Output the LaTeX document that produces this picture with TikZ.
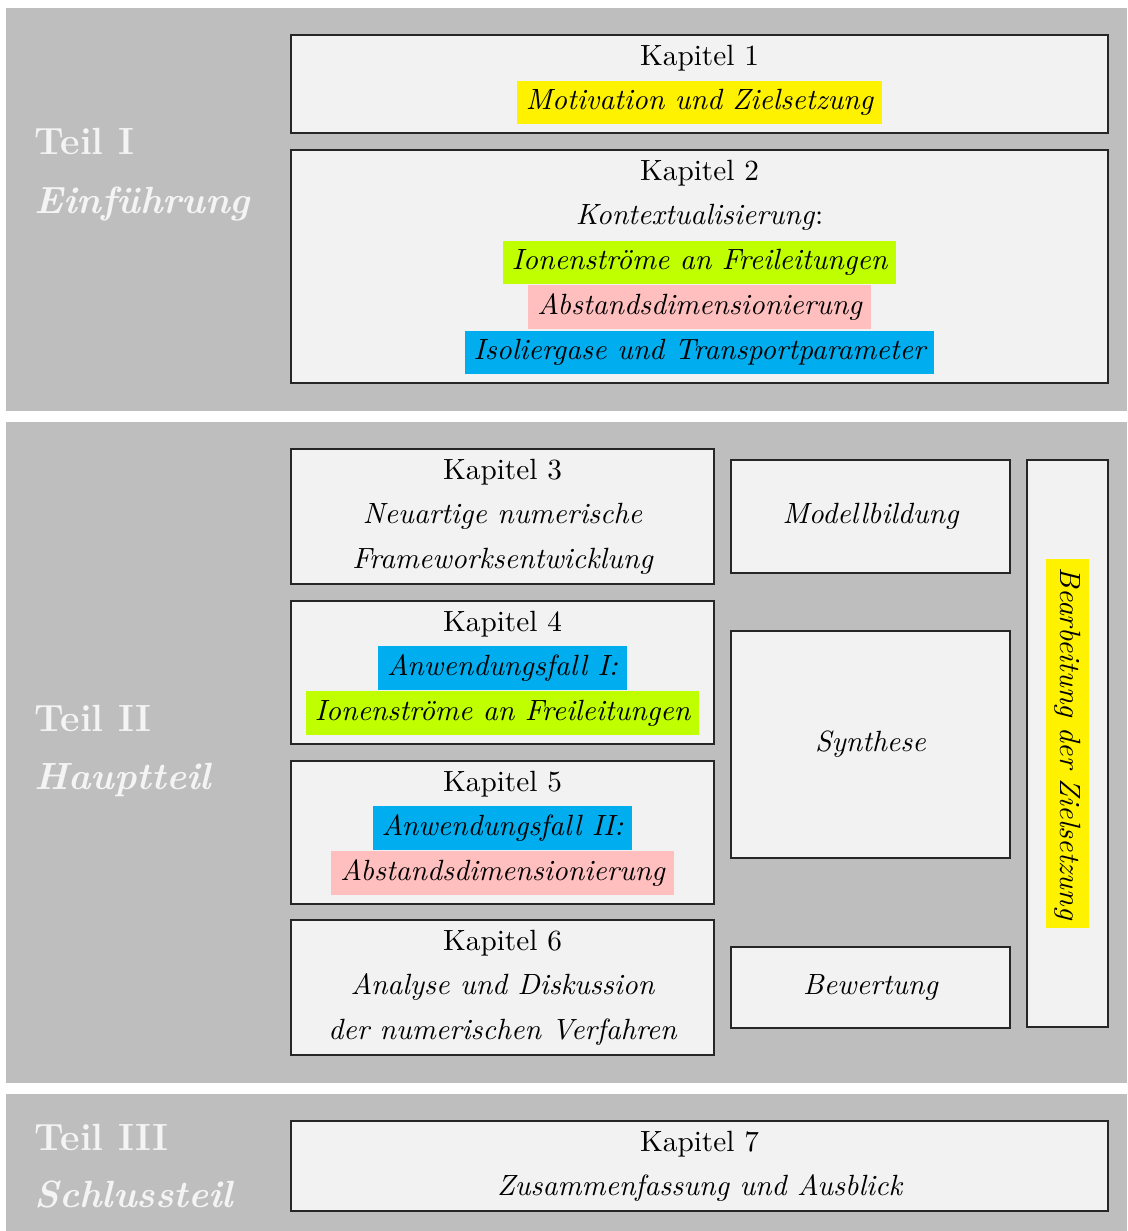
\documentclass[tikz,border=0pt]{standalone}
\usepackage{fontspec}
\usetikzlibrary{fit}
\definecolor{bgpart}{HTML}{BEBEBE}
\definecolor{boxfill}{HTML}{F2F2F2}
\definecolor{hlyellow}{HTML}{FFF200}
\definecolor{hllime}{HTML}{C0FF00}
\definecolor{hlpink}{HTML}{FFBFBF}
\definecolor{hlcyan}{HTML}{00AEEF}
\definecolor{parttext}{HTML}{F4F4F4}
\begin{document}
\begin{tikzpicture}[x=0.3415pt,y=-0.3415pt,
  partbg/.style={fill=bgpart,draw=none},
  chapbox/.style={draw=black!85,line width=0.4pt,fill=boxfill,inner sep=0pt},
  chaptitle/.style={anchor=base,inner sep=0pt},
  itline/.style={anchor=base,inner sep=0pt,font=\itshape},
  hl/.style={anchor=base,inner sep=3pt,fill=#1,font=\itshape},
  partnum/.style={anchor=base west,inner sep=0pt,text=parttext,font=\fontsize{12.95}{15}\selectfont\bfseries},
  partname/.style={anchor=base west,inner sep=0pt,text=parttext,font=\fontsize{12.95}{15}\selectfont\bfseries\itshape}]
\useasboundingbox (0,0) rectangle (1127,1231);
\fill[white] (0,0) rectangle (1127,1231);
% part backgrounds
\fill[partbg] (6,8) rectangle (1127,411);
\fill[partbg] (6,422) rectangle (1127,1083);
\fill[partbg] (6,1094) rectangle (1127,1231);
% part labels
\node[partnum] (p1n) at (34,155) {Teil I};
\node[partname] (p1t) at (34,213.5) {Einführung};
\node[partnum] (p2n) at (34,731) {Teil II};
\node[partname] (p2t) at (34,789.5) {Hauptteil};
\node[partnum] (p3n) at (34,1150) {Teil III};
\node[partname] (p3t) at (34,1207) {Schlussteil};
% Teil I
\node[chapbox,fit={(291,35)(1108,133)}] (k1) {};
\node[chaptitle] (k1t) at (699.5,65.7) {Kapitel 1};
\node[hl=hlyellow] (k1a) at (699.5,109.7) {Motivation und Zielsetzung};
\node[chapbox,fit={(291,150)(1108,383)}] (k2) {};
\node[chaptitle] (k2t) at (699.5,180.7) {Kapitel 2};
\node[chaptitle] (k2a) at (699.5,224.7) {\textit{Kontextualisierung}:};
\node[hl=hllime] (k2b) at (699.5,269.7) {Ionenströme an Freileitungen};
\node[hl=hlpink] (k2c) at (699.5,314.7) {Abstandsdimensionierung};
\node[hl=hlcyan] (k2d) at (699.5,359.7) {Isoliergase und Transportparameter};
% Teil II
\node[chapbox,fit={(291,449)(714,584)}] (k3) {};
\node[chaptitle] (k3t) at (502.5,479.5) {Kapitel 3};
\node[itline] (k3a) at (502.5,523.5) {Neuartige numerische};
\node[itline] (k3b) at (502.5,568.5) {Frameworksentwicklung};
\node[chapbox,fit={(291,601)(714,744)}] (k4) {};
\node[chaptitle] (k4t) at (502.5,631.5) {Kapitel 4};
\node[hl=hlcyan] (k4a) at (502.5,675.5) {Anwendungsfall I:};
\node[hl=hllime] (k4b) at (502.5,720.5) {Ionenströme an Freileitungen};
\node[chapbox,fit={(291,761)(714,904)}] (k5) {};
\node[chaptitle] (k5t) at (502.5,791.5) {Kapitel 5};
\node[hl=hlcyan] (k5a) at (502.5,835.5) {Anwendungsfall II:};
\node[hl=hlpink] (k5b) at (502.5,880.5) {Abstandsdimensionierung};
\node[chapbox,fit={(291,920)(714,1055)}] (k6) {};
\node[chaptitle] (k6t) at (502.5,950.5) {Kapitel 6};
\node[itline] (k6a) at (502.5,994.5) {Analyse und Diskussion};
\node[itline] (k6b) at (502.5,1039.5) {der numerischen Verfahren};
\node[chapbox,fit={(731,460)(1010,573)}] (mb) {};
\node[itline,anchor=center] (mbt) at (mb.center) {Modellbildung};
\node[chapbox,fit={(731,631)(1010,858)}] (sy) {};
\node[itline,anchor=center] (syt) at (sy.center) {Synthese};
\node[chapbox,fit={(731,947)(1010,1028)}] (bw) {};
\node[itline,anchor=center] (bwt) at (bw.center) {Bewertung};
\node[chapbox,fit={(1027,460)(1108,1027)}] (bz) {};
\node[hl=hlyellow,rotate=-90,anchor=center] (bzt) at (bz.center) {Bearbeitung der Zielsetzung};
% Teil III
\node[chapbox,fit={(291,1121)(1108,1211)}] (k7) {};
\node[chaptitle] (k7t) at (699.5,1151.7) {Kapitel 7};
\node[itline] (k7a) at (699.5,1195.7) {Zusammenfassung und Ausblick};
\end{tikzpicture}
\end{document}
